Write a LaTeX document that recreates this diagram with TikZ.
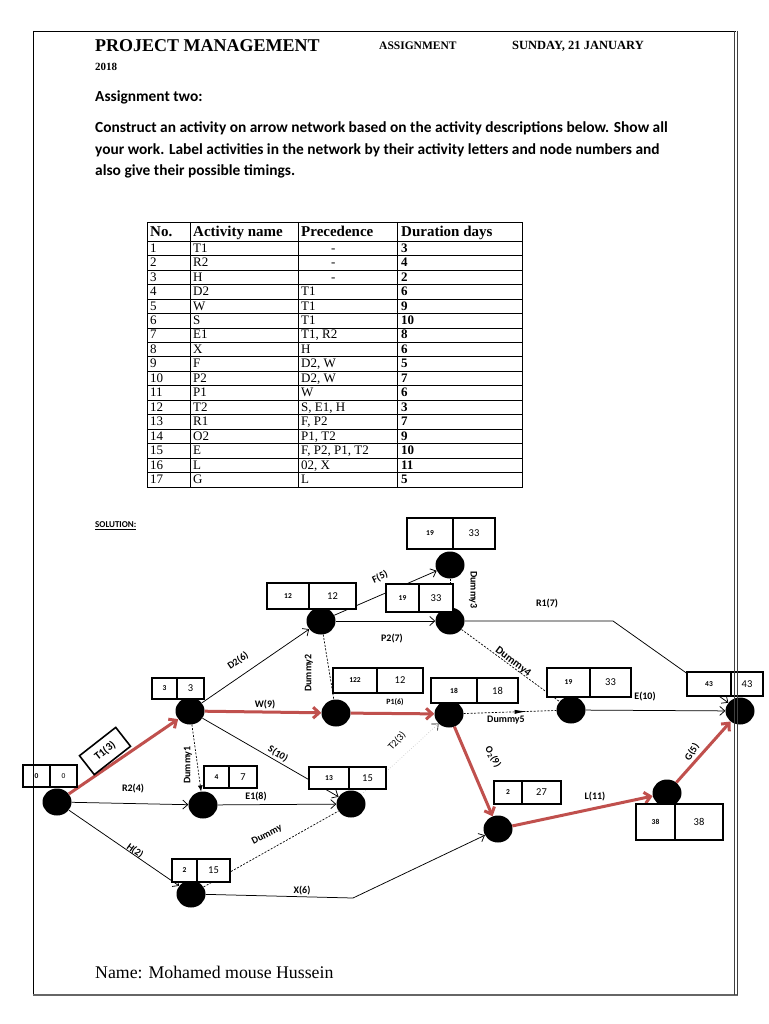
\documentclass[tikz,border=0pt]{standalone}
\usepackage{fontspec}
\setmainfont{Liberation Serif}
\newfontfamily\carl{Carlito}
\usetikzlibrary{arrows.meta,shapes.geometric,decorations.markings}
\definecolor{critred}{RGB}{192,80,77}
\newcommand{\tbox}[8]{%
  \node[cell,font=\carl\bfseries\fontsize{7.5}{9}\selectfont,minimum width={(#3)-(#2)},minimum height={(#6)-(#5)}] (#1l) at ({((#2)+(#3))/2},{((#5)+(#6))/2}) {#7};
  \node[cell,font=\carl\fontsize{10.5}{12}\selectfont,minimum width={(#4)-(#3)},minimum height={(#6)-(#5)}] (#1r) at ({((#3)+(#4))/2},{((#5)+(#6))/2}) {#8};}
\begin{document}
\begin{tikzpicture}[x=1pt,y=-1pt,
 ev/.style={ellipse,fill=black,minimum width=29,minimum height=27,inner sep=0pt},
 cell/.style={draw,line width=1.5pt,fill=white,inner sep=0pt},
 lab/.style={font=\carl\bfseries\fontsize{10}{12}\selectfont,inner sep=1pt},
 act/.style={line width=0.75pt,-{Straight Barb[length=5pt,width=9pt]}},
 crit/.style={draw=critred,line width=3pt,-{Straight Barb[length=6pt,width=11pt]}},
 dum/.style={line width=0.7pt,dash pattern=on 2pt off 1.5pt},
 tcell/.style={font=\fontsize{13}{14}\selectfont,anchor=base west,inner sep=0pt},
 thead/.style={font=\bfseries\fontsize{15}{16}\selectfont,anchor=base west,inner sep=0pt},
 para/.style={font=\carl\bfseries\fontsize{15.4}{17}\selectfont,anchor=west,inner sep=0pt},
 hd/.style={font=\bfseries\fontsize{12}{14}\selectfont,anchor=west,inner sep=0pt}
]
\useasboundingbox[fill=white] (0,0) rectangle (768,1024);

% header
\node[anchor=west,inner sep=0pt,font=\bfseries\fontsize{18}{20}\selectfont] (title) at (95,46) {PROJECT MANAGEMENT};
\node[hd,font=\bfseries\fontsize{11.5}{14}\selectfont] (asg) at (379,46) {ASSIGNMENT};
\node[hd,font=\bfseries\fontsize{12.5}{14}\selectfont] (date) at (512,46) {SUNDAY, 21 JANUARY};
\node[hd,font=\bfseries\fontsize{11}{13}\selectfont] (yr) at (95,67) {2018};
\node[para] (a2) at (95,97) {Assignment two:};
\node[para] (p1) at (95,128) {Construct an activity on arrow network based on the activity descriptions below. Show all};
\node[para] (p2) at (95,150) {your work. Label activities in the network by their activity letters and node numbers and};
\node[para] (p3) at (95,171) {also give their possible timings.};

% table
\draw[line width=0.8pt] (147,222) rectangle (522,487);
\foreach \k in {0,...,16} \draw[line width=0.6pt] (147,{241+14.47*\k}) -- (522,{241+14.47*\k});
\foreach \xx in {190,298,397} \draw[line width=0.6pt] (\xx,222) -- (\xx,487);
\node[thead] (h1) at (150,236.5) {No.};
\node[thead] (h2) at (193,236.5) {Activity name};
\node[thead] (h3) at (301,236.5) {Precedence};
\node[thead] (h4) at (401,236.5) {Duration days};
\foreach \n/\a/\p/\px/\d [count=\i] in {1/T1/-/331/3, 2/R2/-/331/4, 3/H/-/331/2, 4/D2/T1/301/6, 5/W/T1/301/9, 6/S/T1/301/10, 7/E1/{T1, R2}/301/8, 8/X/H/301/6, 9/F/{D2, W}/301/5, 10/P2/{D2, W}/301/7, 11/P1/W/301/6, 12/T2/{S, E1, H}/301/3, 13/R1/{F, P2}/301/7, 14/O2/{P1, T2}/301/9, 15/E/{F, P2, P1, T2}/301/10, 16/L/{02, X}/301/11, 17/G/L/301/5}{
  \node[tcell] (r\i-n) at (150,{241+14.47*\i-3.3}) {\n};
  \node[tcell] (r\i-a) at (193,{241+14.47*\i-3.3}) {\a};
  \node[tcell] (r\i-p) at (\px,{241+14.47*\i-3.3}) {\p};
  \node[tcell,font=\bfseries\fontsize{13}{14}\selectfont] (r\i-d) at (401,{241+14.47*\i-3.3}) {\d};
}

\node[anchor=west,inner sep=0pt,font=\carl\bfseries\fontsize{9}{11}\selectfont] (sol) at (95,526) {\underline{SOLUTION:}};

% events
\node[ev] (n0) at (57,802) {};
\node[ev] (n1) at (190,711) {};
\node[ev] (n2) at (321,621) {};
\node[ev] (n3) at (450,565) {};
\node[ev] (n4) at (450,621) {};
\node[ev] (n5) at (336,713) {};
\node[ev] (n6) at (449,714) {};
\node[ev] (n7) at (571,710) {};
\node[ev] (n8) at (740,711) {};
\node[ev] (n9) at (203,805) {};
\node[ev] (n10) at (351,804) {};
\node[ev] (n11) at (191,894) {};
\node[ev] (n12) at (498,829) {};
\node[ev] (n13) at (667,793) {};

% activities
\draw[crit] (n0) -- (n1);
\draw[act] (n0) -- (n9);
\draw[act] (n0) -- (n11);
\draw[act] (n1) -- (n2);
\draw[crit] (n1) -- (n5);
\draw[act] (n1) -- (n10);
\draw[dum,-{Latex[length=6pt,width=5pt]}] (n1) -- (n9);
\draw[act] (n9) -- (n10);
\draw[dum] (n11) -- (n10);
\coordinate (xb) at (353,898);
\draw[act] (n11) -- (xb) -- (n12);
\draw[dum] (n2) -- (n5);
\draw[act] (n2) -- (n3);
\draw[act] (n2) -- (n4);
\draw[dum] (n3) -- (n4);
\coordinate (rb) at (613,621);
\draw[act] (n4) -- (rb) -- (n8);
\draw[dum] (n4) -- (n7);
\draw[crit] (n5) -- (n6);
\draw[black!25,dotted,line width=0.6pt,-{Straight Barb[length=5pt,width=9pt,color=black]}] (n10) -- (n6);
\draw[dum,postaction={decorate},decoration={markings,mark=at position 0.68 with {\arrow{Latex[length=12pt,width=4pt]}}}] (n6) -- (n7);
\draw[act] (n7) -- (n8);
\draw[crit] (n6) -- (n12);
\draw[crit] (n12) -- (n13);
\draw[crit] (n13) -- (n8);

% time boxes
\tbox{b0}{23}{50}{77}{765}{787}{0}{\fontsize{7.5}{9}\selectfont 0}
\tbox{b1}{152}{177}{204}{678}{699}{3}{3}
\tbox{b2}{267}{309}{356}{583}{609}{12}{12}
\tbox{b3}{407}{453}{495}{518}{549}{19}{33}
\tbox{b4}{386}{419}{453}{584}{612}{19}{33}
\tbox{b5}{333}{377}{423}{668}{693}{122}{12}
\tbox{b6}{431}{477}{518}{678}{703}{18}{18}
\tbox{b7}{547}{590}{631}{668}{697}{19}{33}
\tbox{b8}{687}{731}{763}{672}{696}{43}{43}
\tbox{b9}{204}{229}{257}{766}{788}{4}{7}
\tbox{b10}{309}{349}{386}{767}{789}{13}{15}
\tbox{b11}{172}{197}{230}{859}{882}{2}{15}
\tbox{b12}{494}{522}{561}{781}{804}{2}{27}
\tbox{b13}{636}{675}{723}{804}{840}{38}{38}

% labels
\node[draw,line width=1.6pt,fill=white,rotate=38,minimum width=46,minimum height=24,inner sep=0pt,font=\carl\bfseries\fontsize{11}{13}\selectfont] (t1l) at (105,751) {T1(3)};
\node[lab] (lr2) at (133,789) {R2(4)};
\node[lab] (le1) at (256,797) {E1(8)};
\node[lab] (lw) at (265,705) {W(9)};
\node[lab,rotate=-32] (ls) at (278,754) {S(10)};
\node[lab,rotate=34] (ld2) at (238,661) {D2(6)};
\node[lab,rotate=-36] (lh) at (135,851) {H(2)};
\node[lab] (lx) at (302,891) {X(6)};
\node[lab,rotate=27] (ldm) at (267,835) {Dummy};
\node[lab,rotate=90] (ld1) at (188,765) {Dummy1};
\node[lab,rotate=90] (ld2m) at (309,673) {Dummy2};
\node[lab,rotate=25] (lf) at (380,577) {F(5)};
\node[lab] (lp2) at (392,639) {P2(7)};
\node[lab,rotate=-90] (ld3) at (473,590) {Dummy3};
\node[lab] (lr1) at (547,604) {R1(7)};
\node[lab,rotate=-37,font=\carl\bfseries\fontsize{11}{13}\selectfont] (ld4) at (513,662) {Dummy4};
\node[lab,font=\carl\bfseries\fontsize{8}{10}\selectfont] (lp1) at (395,702) {P1(6)};
\node[lab] (ld5) at (506,720) {Dummy5};
\node[lab,rotate=48,font=\carl\fontsize{10}{12}\selectfont] (lt2) at (397,741) {T2(3)};
\node[lab] (le) at (645,697) {E(10)};
\node[lab,rotate=-60] (lo2) at (493,757) {O\textsubscript{2}(9)};
\node[lab] (ll) at (595,797) {L(11)};
\node[lab,rotate=57] (lg) at (692,752) {G(5)};

% name
\node[anchor=west,inner sep=0pt,font=\fontsize{17.8}{20}\selectfont] (nm) at (95,972) {Name: Mohamed mouse Hussein};

% page frame
\draw[line width=0.9pt] (33,31) -- (736,31);
\draw[line width=0.9pt] (33,31) -- (33,994);
\draw[black!60,line width=2.5pt] (33,995) -- (738,995);
\draw[black!75,line width=0.7pt] (734.5,31) -- (734.5,995);
\draw[black!75,line width=0.7pt] (737.5,31) -- (737.5,995);
\end{tikzpicture}
\end{document}
